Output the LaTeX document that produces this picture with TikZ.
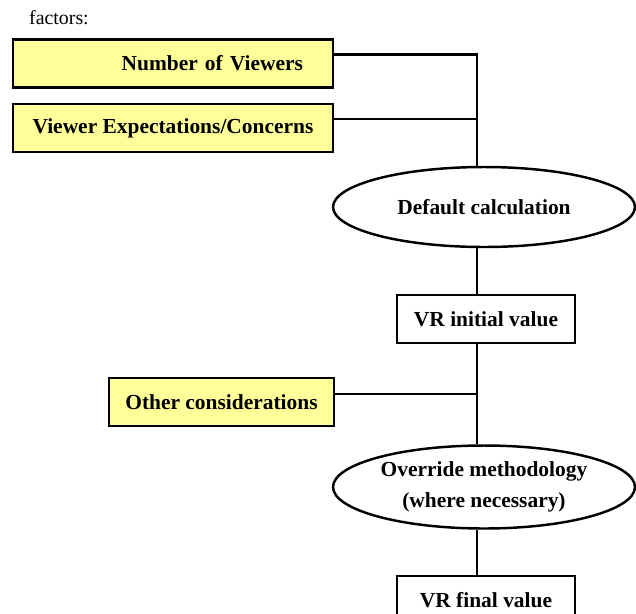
\documentclass[tikz,border=0pt]{standalone}
\usepackage{fontspec}
\setmainfont{Liberation Serif}
\usetikzlibrary{shapes.geometric,calc}

\definecolor{factoryellow}{RGB}{255,255,153}

\tikzset{
	boldtext/.style = {font=\fontsize{12.2}{14.5}\selectfont\bfseries},
	factorbox/.style = {draw, line width=1.4pt, fill=factoryellow, minimum width=6.4cm, minimum height=0.96cm, inner sep=0pt, boldtext},
	valuebox/.style = {draw, line width=1.4pt, fill=white, minimum width=3.56cm, minimum height=0.96cm, inner sep=0pt, boldtext},
	calcoval/.style = {draw, ellipse, line width=1.4pt, fill=white, minimum width=6.04cm, inner sep=0pt, boldtext, align=center},
	joinline/.style = {line width=1.4pt}
}

\begin{document}
\begin{tikzpicture}[x=0.02cm, y=-0.02cm, font=\fontsize{11.3}{13.5}\selectfont]
			\useasboundingbox (0,0) rectangle (636,613);
			% titol
			\node[anchor=west] (factors) at (23,18) {factors:};
			% factors de dalt
			\node[factorbox, text width=5.2cm, inner xsep=0.6cm, align=right] (viewers) at (173,63.5) {Number of Viewers};
			\node[factorbox] (expect) at (173,128) {Viewer Expectations/Concerns};
			% calcul per defecte
			\node[calcoval, minimum height=1.6cm] (defcalc) at (484,207) {Default calculation};
			% valor inicial
			\node[valuebox] (vrinit) at (486,319) {VR initial value};
			% altres consideracions
			\node[factorbox, minimum width=4.5cm] (other) at (221.5,402) {Other considerations};
			% override
			\node[calcoval, minimum height=1.66cm] (override) at (484,487) {Override methodology\\[3.5pt](where necessary)};
			% valor final
			\node[valuebox] (vrfinal) at (486,600) {VR final value};
			% punts d'unio
			\coordinate (spine) at (477,55.5);
			\coordinate (viewersout) at ($(viewers.north east)+(0,16)$);
			\coordinate (expectout) at ($(expect.north east)+(0,16)$);
			\coordinate (otherout) at ($(other.north east)+(0,17)$);
			% unions
			\draw[joinline] (viewersout) -- (viewersout -| spine) -- (spine |- defcalc.north);
			\draw[joinline] (expectout) -- (expectout -| spine);
			\draw[joinline] (spine |- defcalc.south) -- (spine |- vrinit.north);
			\draw[joinline] (spine |- vrinit.south) -- (spine |- override.north);
			\draw[joinline] (otherout) -- (otherout -| spine);
			\draw[joinline] (spine |- override.south) -- (spine |- vrfinal.north);
\end{tikzpicture}
\end{document}
